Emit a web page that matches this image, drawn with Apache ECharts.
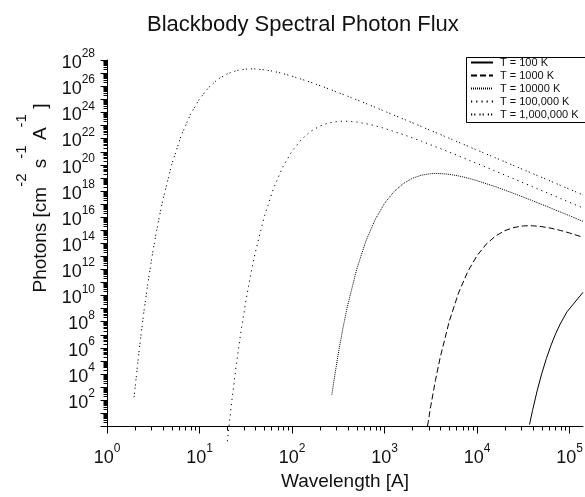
<!DOCTYPE html>
<html><head><meta charset="utf-8">
<script src="https://cdn.jsdelivr.net/npm/echarts@6/dist/echarts.min.js"></script>
<style>html,body{margin:0;padding:0;background:#fff}#c{width:585px;height:497px}</style>
</head><body><div id="c"></div>
<script>
// ---- Data ----
const chartTitle = 'Blackbody Spectral Photon Flux';
const xAxisName = 'Wavelength [A]';
const seriesNames = ['T = 100 K', 'T = 1000 K', 'T = 10000 K', 'T = 100,000 K', 'T = 1,000,000 K'];

// [wavelength (A), photons cm^-2 s^-1 A^-1]
const t100 = [[37000,1.29],[39811,1.50e1],[44668,4.84e2],[50119,1.01e4],[56234,1.45e5],[63096,1.49e6],[70795,1.12e7],[79433,6.44e7],[94000,5.42e8],[140000,1.68e10]];
const t1000 = [[2920,0.99],[3162,3.27e1],[3548,2.92e3],[3981,1.50e5],[5012,1.01e8],[6310,1.49e10],[7943,6.44e11],[10000,1.06e13],[12589,8.15e13],[15849,3.40e14],[19953,8.77e14],[25119,1.55e15],[31623,2.01e15],[35481,2.10e15],[39811,2.07e15],[50119,1.79e15],[63096,1.36e15],[79433,9.25e14],[100000,5.86e14],[140000,2.74e14]];
const t10000 = [[270,2.54e2],[281.8,2.02e3],[316.2,3.27e5],[354.8,2.92e7],[398.1,1.50e9],[501.2,1.01e12],[631,1.49e14],[794.3,6.44e15],[1000,1.06e17],[1259,8.15e17],[1585,3.40e18],[1995,8.77e18],[2512,1.55e19],[3162,2.01e19],[3548,2.10e19],[3981,2.07e19],[5012,1.79e19],[6310,1.36e19],[7943,9.25e18],[10000,5.86e18],[15849,2.02e18],[25119,6.12e17],[39811,1.72e17],[63096,4.65e16],[100000,1.22e16],[140000,4.53e15]];
const t100000 = [[20,6.73e-2],[22.39,9.23e1],[25.12,6.24e4],[28.18,2.02e7],[31.62,3.27e9],[35.48,2.92e11],[39.81,1.50e13],[50.12,1.01e16],[63.1,1.49e18],[79.43,6.44e19],[100,1.06e21],[125.9,8.15e21],[158.5,3.40e22],[199.5,8.77e22],[251.2,1.55e23],[316.2,2.01e23],[354.8,2.10e23],[398.1,2.07e23],[501.2,1.79e23],[631,1.36e23],[794.3,9.25e22],[1000,5.86e22],[1585,2.02e22],[2512,6.12e21],[3981,1.72e21],[6310,4.65e20],[10000,1.22e20],[15849,3.14e19],[25119,8.04e18],[39811,2.04e18],[63096,5.15e17],[100000,1.30e17],[140000,4.75e16]];
const t1000000 = [[1.96,1.62e2],[2.0,5.69e2],[2.24,9.23e5],[2.51,6.24e8],[2.82,2.02e11],[3.16,3.27e13],[3.55,2.92e15],[3.98,1.50e17],[5.01,1.01e20],[6.31,1.49e22],[7.94,6.44e23],[10,1.06e25],[12.6,8.15e25],[15.8,3.40e26],[20.0,8.77e26],[25.1,1.55e27],[31.6,2.01e27],[35.5,2.10e27],[39.8,2.07e27],[50.1,1.79e27],[63.1,1.36e27],[79.4,9.25e26],[100,5.86e26],[158,2.02e26],[251,6.12e25],[398,1.72e25],[631,4.65e24],[1000,1.22e24],[1585,3.14e23],[2512,8.04e22],[3981,2.04e22],[6310,5.15e21],[10000,1.30e21],[15849,3.27e20],[25119,8.24e19],[39811,2.07e19],[63096,5.20e18],[100000,1.31e18],[140000,4.76e17]];

// axis ticks
const xMajorTicks = [1, 10, 100, 1000, 10000, 100000];
const yMajorTicks = [1e0,1e1,1e2,1e3,1e4,1e5,1e6,1e7,1e8,1e9,1e10,1e11,1e12,1e13,1e14,1e15,1e16,1e17,1e18,1e19,1e20,1e21,1e22,1e23,1e24,1e25,1e26,1e27,1e28];
const minorMultipliers = [2,3,4,5,6,7,8,9];
const xMin = 1, xMax = 140000, yMin = 1, yMax = 1e28;

// ---- tick marks (major + log-spaced minor) drawn through the axes ----
const tickData = [];
xMajorTicks.forEach(v => {
  tickData.push([v, yMin, 7, 0]);
  minorMultipliers.forEach(m => { if (v * m <= xMax) tickData.push([v * m, yMin, 4, 0]); });
});
yMajorTicks.forEach(v => {
  tickData.push([xMin, v, 7, 1]);
  if (v < yMax) minorMultipliers.forEach(m => tickData.push([xMin, v * m, 4, 1]));
});

function expLabel(v, onlyEven) {
  const e = Math.round(Math.log10(v));
  if (Math.abs(v / Math.pow(10, e) - 1) > 1e-6) return '';
  if (onlyEven && (e % 2 !== 0 || e === 0)) return '';
  return '{b|10}{s|' + e + '}';
}
const labelRich = {
  b: { fontSize: 18, fontFamily: 'Liberation Sans', color: '#111', lineHeight: 24, verticalAlign: 'bottom' },
  s: { fontSize: 12, fontFamily: 'Liberation Sans', color: '#111', lineHeight: 14, verticalAlign: 'top' }
};

const styles = [
  { type: 'solid' },
  { type: [6, 3] },
  { type: [1, 1] },
  { type: [1.2, 4] },
  { type: [1.2, 2, 1.2, 4] }
];
const datasets = [t100, t1000, t10000, t100000, t1000000];

const chart = echarts.init(document.getElementById('c'), null, { renderer: 'canvas' });
const series = datasets.map((d, i) => ({
  name: seriesNames[i],
  type: 'line',
  data: d,
  showSymbol: false,
  symbol: 'none',
  clip: false,
  z: 4,
  itemStyle: { color: '#000' },
  lineStyle: { color: '#000', width: 1, type: styles[i].type }
}));
series.push({
  name: 'ticks',
  type: 'custom',
  data: tickData,
  encode: { x: 0, y: 1 },
  silent: true,
  clip: false,
  z: 3,
  renderItem: function (params, api) {
    const p = api.coord([api.value(0), api.value(1)]);
    const len = api.value(2);
    const x = Math.round(p[0]) + 0.5, y = Math.round(p[1]) + 0.5;
    const shape = api.value(3) === 0
      ? { x1: x, y1: y, x2: x, y2: y + len }
      : { x1: x - len, y1: y, x2: x, y2: y };
    return { type: 'line', shape: shape, style: { stroke: '#000', lineWidth: 1 } };
  }
});

const nameRich = {
  n: { fontSize: 19, fontFamily: 'Liberation Sans', color: '#111', lineHeight: 36, verticalAlign: 'bottom' },
  s: { fontSize: 15, fontFamily: 'Liberation Sans', color: '#111', lineHeight: 14, verticalAlign: 'top' }
};

chart.setOption({
  animation: false,
  backgroundColor: '#fff',
  title: {
    text: chartTitle, left: 147, top: 14, padding: 0,
    textStyle: { fontFamily: 'Liberation Sans', fontSize: 22, fontWeight: 'normal', color: '#111' }
  },
  graphic: [{
    type: 'rect', z: 100, silent: true,
    shape: { x: 466.5, y: 57.5, width: 150, height: 65 },
    style: { fill: 'none', stroke: '#000', lineWidth: 1 }
  }],
  legend: {
    data: seriesNames,
    orient: 'vertical',
    left: 466, top: 57,
    itemWidth: 22, itemHeight: 10, itemGap: 2,
    padding: [0, 0, 0, 4],
    borderWidth: 0,
    itemStyle: { opacity: 0 },
    textStyle: { fontFamily: 'Liberation Sans', fontSize: 11, color: '#111', padding: [0, 0, 0, 2] }
  },
  grid: { left: 107, right: 2, top: 60, bottom: 71, containLabel: false, outerBoundsMode: 'none' },
  xAxis: {
    type: 'log', logBase: 10, min: xMin, max: xMax,
    name: xAxisName, nameLocation: 'middle', nameGap: 42,
    nameTextStyle: { fontFamily: 'Liberation Sans', fontSize: 19, color: '#111' },
    axisLine: { lineStyle: { color: '#000', width: 1 } },
    axisTick: { show: false },
    splitLine: { show: false },
    axisLabel: { margin: 17, showMaxLabel: false, formatter: v => expLabel(v, false), rich: labelRich }
  },
  yAxis: {
    type: 'log', logBase: 10, min: yMin, max: yMax, interval: 1,
    name: '{n|Photons [cm}{s|-2}{n| s}{s|-1}{n| A}{s|-1}{n| ]}',
    nameLocation: 'middle', nameRotate: 90, nameGap: 55,
    nameTextStyle: { padding: [0, 0, 0, 90], rich: nameRich },
    axisLine: { lineStyle: { color: '#000', width: 1 } },
    axisTick: { show: false },
    splitLine: { show: false },
    axisLabel: { margin: 12, formatter: v => expLabel(v, true), rich: labelRich }
  },
  series: series
});
</script>
</body></html>
